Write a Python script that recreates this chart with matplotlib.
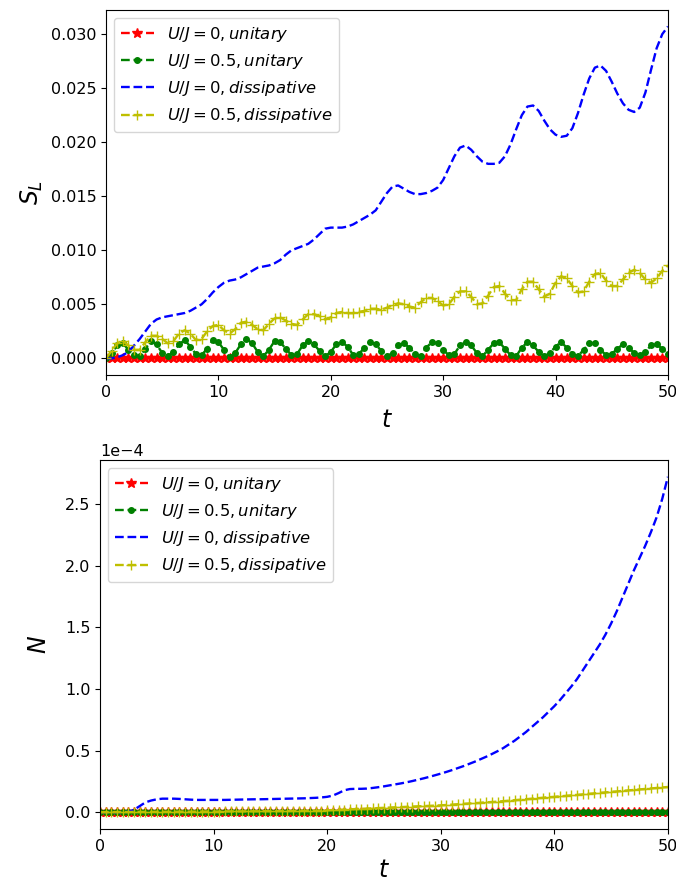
#!/usr/bin/env python3
"""
Entanglement S_L and negativity N vs time, unitary vs dissipative,
for U/J = 0 and U/J = 0.5.
"""

import numpy as np
import matplotlib
matplotlib.use("Agg")
import matplotlib.pyplot as plt

# ---------- Data (dt = 0.5) ----------
t = [0.5 * k for k in range(101)]

# S_L, U/J = 0, unitary
sl_u0_unit = [0.0] * 101

# S_L, U/J = 0.5, unitary
sl_u05_unit = [
    0.0000, 0.0005, 0.0012, 0.0014, 0.0008, 0.0003, 0.0002, 0.0009, 0.0016, 0.0013,
    0.0005, 0.0002, 0.0006, 0.0013, 0.0017, 0.0011, 0.0004, 0.0003, 0.0009, 0.0017,
    0.0015, 0.0008, 0.0001, 0.0005, 0.0013, 0.0018, 0.0014, 0.0006, 0.0002, 0.0008,
    0.0016, 0.0015, 0.0009, 0.0003, 0.0004, 0.0012, 0.0016, 0.0013, 0.0007, 0.0002,
    0.0006, 0.0013, 0.0015, 0.0011, 0.0003, 0.0004, 0.0010, 0.0015, 0.0013, 0.0007,
    0.0002, 0.0005, 0.0012, 0.0014, 0.0010, 0.0004, 0.0002, 0.0010, 0.0015, 0.0014,
    0.0008, 0.0003, 0.0004, 0.0012, 0.0015, 0.0012, 0.0005, 0.0002, 0.0008, 0.0014,
    0.0015, 0.0009, 0.0003, 0.0002, 0.0010, 0.0015, 0.0012, 0.0006, 0.0002, 0.0005,
    0.0011, 0.0015, 0.0010, 0.0004, 0.0002, 0.0008, 0.0014, 0.0014, 0.0008, 0.0003,
    0.0004, 0.0009, 0.0013, 0.0010, 0.0005, 0.0003, 0.0006, 0.0012, 0.0013, 0.0009,
    0.0004,
]

# S_L, U/J = 0, dissipative
sl_u0_diss = [
    0.0000, 0.0000, 0.0001, 0.0003, 0.0006, 0.0012, 0.0018, 0.0025, 0.0032, 0.0036,
    0.0038, 0.0039, 0.0040, 0.0041, 0.0042, 0.0044, 0.0047, 0.0050, 0.0055, 0.0061,
    0.0066, 0.0070, 0.0072, 0.0073, 0.0075, 0.0078, 0.0081, 0.0084, 0.0085, 0.0086,
    0.0088, 0.0091, 0.0096, 0.0100, 0.0102, 0.0104, 0.0106, 0.0110, 0.0115, 0.0120,
    0.0121, 0.0121, 0.0121, 0.0122, 0.0124, 0.0127, 0.0130, 0.0133, 0.0137, 0.0145,
    0.0153, 0.0159, 0.0160, 0.0157, 0.0154, 0.0152, 0.0152, 0.0153, 0.0155, 0.0158,
    0.0165, 0.0176, 0.0187, 0.0195, 0.0197, 0.0193, 0.0187, 0.0182, 0.0180, 0.0180,
    0.0181, 0.0187, 0.0198, 0.0212, 0.0225, 0.0233, 0.0234, 0.0229, 0.0220, 0.0212,
    0.0207, 0.0205, 0.0206, 0.0213, 0.0227, 0.0244, 0.0259, 0.0269, 0.0271, 0.0266,
    0.0256, 0.0245, 0.0236, 0.0230, 0.0228, 0.0232, 0.0246, 0.0267, 0.0287, 0.0300,
    0.0307,
]

# S_L, U/J = 0.5, dissipative
sl_u05_diss = [
    0.0000, 0.0007, 0.0014, 0.0016, 0.0012, 0.0008, 0.0008, 0.0015, 0.0021, 0.0021,
    0.0018, 0.0014, 0.0016, 0.0023, 0.0026, 0.0023, 0.0017, 0.0018, 0.0025, 0.0030,
    0.0031, 0.0026, 0.0023, 0.0027, 0.0033, 0.0034, 0.0031, 0.0027, 0.0026, 0.0032,
    0.0037, 0.0038, 0.0035, 0.0032, 0.0031, 0.0036, 0.0041, 0.0041, 0.0039, 0.0036,
    0.0038, 0.0042, 0.0043, 0.0042, 0.0042, 0.0043, 0.0044, 0.0046, 0.0046, 0.0045,
    0.0047, 0.0049, 0.0051, 0.0050, 0.0048, 0.0047, 0.0052, 0.0056, 0.0056, 0.0053,
    0.0049, 0.0050, 0.0057, 0.0062, 0.0062, 0.0057, 0.0050, 0.0051, 0.0058, 0.0066,
    0.0067, 0.0060, 0.0054, 0.0054, 0.0064, 0.0071, 0.0071, 0.0064, 0.0057, 0.0060,
    0.0070, 0.0076, 0.0074, 0.0067, 0.0061, 0.0062, 0.0071, 0.0078, 0.0079, 0.0072,
    0.0067, 0.0067, 0.0073, 0.0079, 0.0082, 0.0079, 0.0073, 0.0070, 0.0074, 0.0081,
    0.0086,
]

# N (in units of 1e-4)
n_u0_unit = [0.0] * 101
n_u05_unit = [0.0] * 101

n_u0_diss = [
    0.000, 0.000, 0.000, 0.000, 0.000, 0.003, 0.020, 0.050, 0.080, 0.095,
    0.105, 0.110, 0.110, 0.110, 0.108, 0.105, 0.102, 0.100, 0.100, 0.100,
    0.100, 0.100, 0.100, 0.101, 0.102, 0.103, 0.104, 0.105, 0.105, 0.106,
    0.107, 0.108, 0.109, 0.110, 0.111, 0.112, 0.113, 0.115, 0.117, 0.120,
    0.125, 0.135, 0.155, 0.178, 0.188, 0.190, 0.190, 0.192, 0.197, 0.203,
    0.210, 0.218, 0.226, 0.234, 0.243, 0.253, 0.264, 0.275, 0.287, 0.300,
    0.313, 0.327, 0.342, 0.358, 0.374, 0.392, 0.410, 0.430, 0.450, 0.472,
    0.495, 0.520, 0.550, 0.580, 0.615, 0.650, 0.690, 0.730, 0.770, 0.815,
    0.860, 0.910, 0.965, 1.020, 1.080, 1.150, 1.220, 1.290, 1.360, 1.440,
    1.530, 1.630, 1.740, 1.850, 1.960, 2.060, 2.160, 2.270, 2.390, 2.540,
    2.720,
]

n_u05_diss = [
    0.000, 0.001, 0.001, 0.002, 0.002, 0.002, 0.003, 0.003, 0.003, 0.003,
    0.004, 0.004, 0.004, 0.004, 0.005, 0.005, 0.005, 0.005, 0.006, 0.006,
    0.006, 0.006, 0.007, 0.007, 0.007, 0.007, 0.008, 0.008, 0.008, 0.009,
    0.009, 0.009, 0.010, 0.010, 0.011, 0.011, 0.012, 0.012, 0.013, 0.014,
    0.016, 0.018, 0.020, 0.022, 0.024, 0.026, 0.028, 0.030, 0.032, 0.034,
    0.036, 0.038, 0.040, 0.042, 0.044, 0.046, 0.048, 0.050, 0.052, 0.054,
    0.056, 0.059, 0.062, 0.065, 0.068, 0.071, 0.074, 0.077, 0.080, 0.083,
    0.086, 0.090, 0.094, 0.098, 0.102, 0.106, 0.110, 0.114, 0.118, 0.122,
    0.125, 0.129, 0.133, 0.137, 0.141, 0.145, 0.149, 0.153, 0.157, 0.161,
    0.165, 0.169, 0.173, 0.177, 0.181, 0.185, 0.189, 0.193, 0.197, 0.201,
    0.205,
]

labels = [
    r'$U/J=0, unitary$',
    r'$U/J=0.5, unitary$',
    r'$U/J=0, dissipative$',
    r'$U/J=0.5, dissipative$',
]

# ---------- Styles ----------
styles = [
    dict(color='r', marker='*', markersize=7),
    dict(color='g', marker='.', markersize=8),
    dict(color='b', marker=None),
    dict(color='y', marker='+', markersize=7),
]

TICK_FS = 11.5
LABEL_FS = 17
LEGEND_FS = 11.8

fig = plt.figure(figsize=(6.76, 8.84), dpi=100)
ax1 = fig.add_axes([0.1568, 0.5758, 0.8312, 0.4129])
ax2 = fig.add_axes([0.1479, 0.0622, 0.8401, 0.4174])

# ---------- Top: S_L ----------
top_series = [sl_u0_unit, sl_u05_unit, sl_u0_diss, sl_u05_diss]
for y, lab, st in zip(top_series, labels, styles):
    ax1.plot(t, y, linestyle='--', linewidth=1.7, label=lab, **st)
ax1.set_xlim(0, 50)
ax1.set_ylabel(r'$S_L$', fontsize=LABEL_FS)
ax1.set_xlabel(r'$t$', fontsize=LABEL_FS, labelpad=6)
ax1.tick_params(labelsize=TICK_FS)
ax1.legend(loc='upper left', fontsize=LEGEND_FS)

# ---------- Bottom: N ----------
bottom_series = [n_u0_unit, n_u05_unit, n_u0_diss, n_u05_diss]
for y, lab, st in zip(bottom_series, labels, styles):
    ax2.plot(t, np.array(y) * 1e-4, linestyle='--', linewidth=1.7, label=lab, **st)
ax2.set_xlim(0, 50)
ax2.ticklabel_format(axis='y', style='sci', scilimits=(0, 0))
ax2.set_ylabel(r'$N$', fontsize=LABEL_FS, labelpad=10)
ax2.set_xlabel(r'$t$', fontsize=LABEL_FS, labelpad=3)
ax2.tick_params(labelsize=TICK_FS)
ax2.yaxis.get_offset_text().set_fontsize(TICK_FS)
ax2.legend(loc='upper left', fontsize=LEGEND_FS)

fig.savefig("out.png", dpi=100)
print("saved out.png")
